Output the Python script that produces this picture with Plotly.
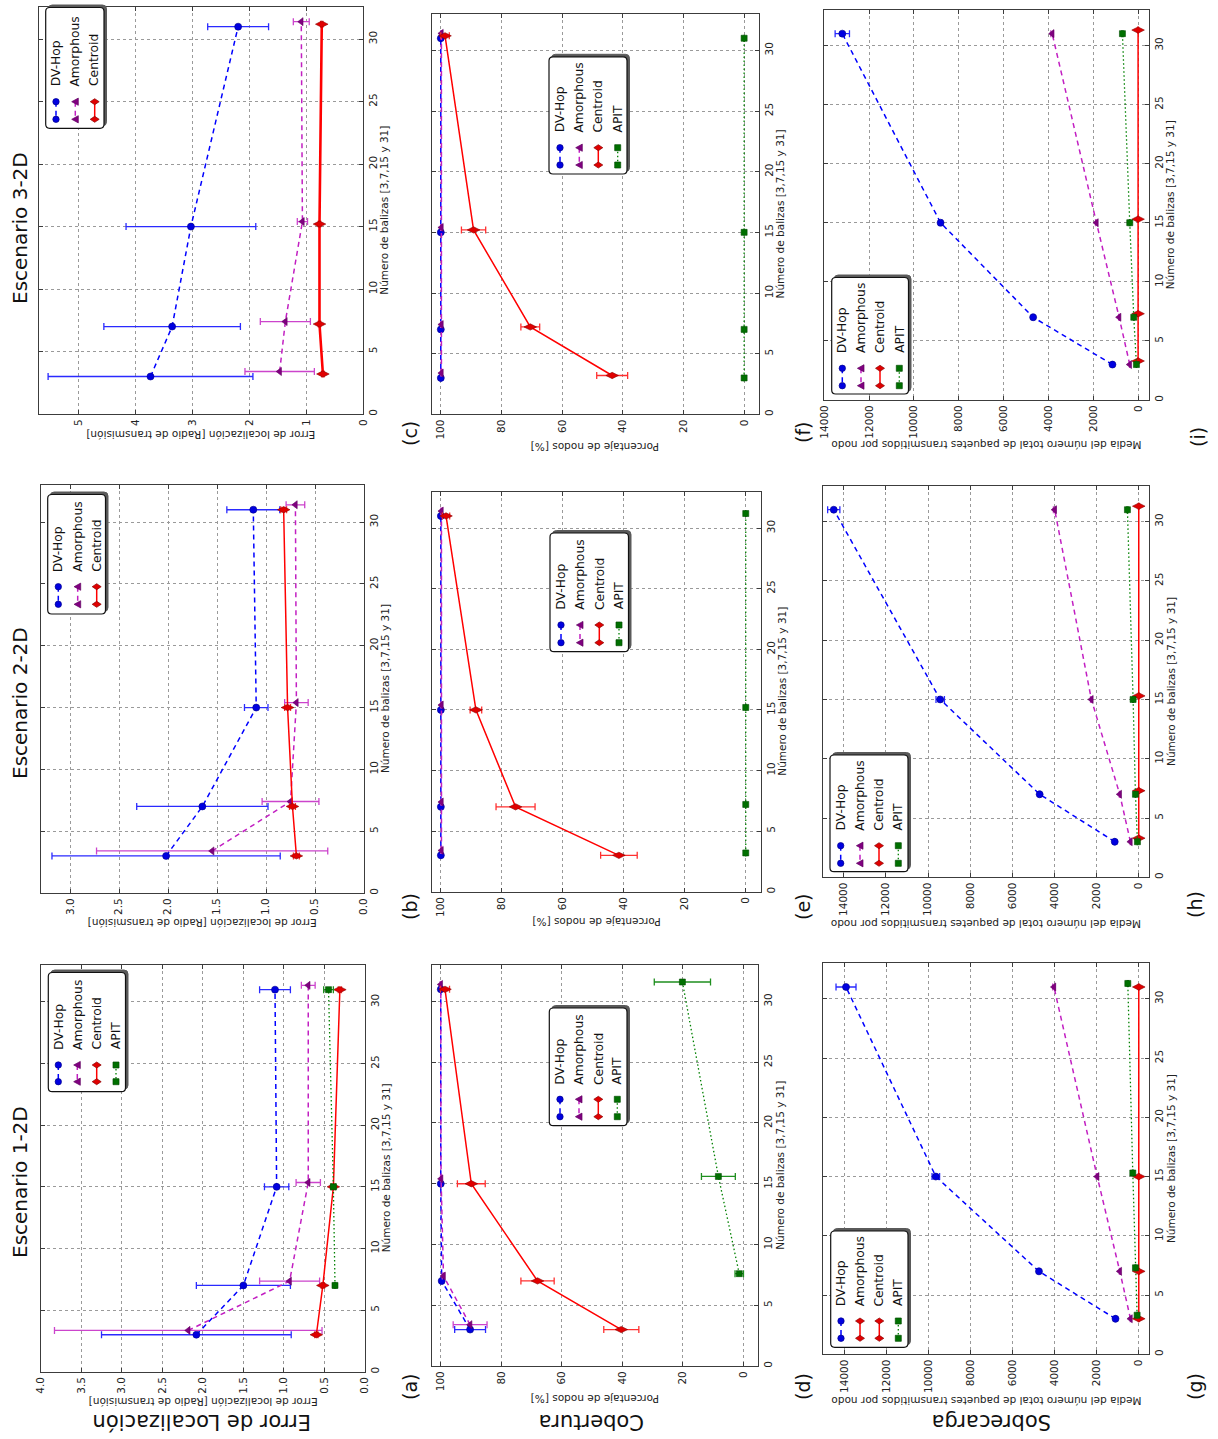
import plotly.graph_objects as go

# ---------------------------------------------------------------------------
# Data: number of beacons and results per scenario (mean and std. deviation)
# ---------------------------------------------------------------------------
BEACONS = [3, 7, 15, 31]
SERIES = ["DV-Hop", "Amorphous", "Centroid", "APIT"]

# Error de localización [radio de transmisión]
err1_dvhop = [2.08, 1.50, 1.09, 1.11]
err1_dvhop_sd = [1.17, 0.58, 0.15, 0.19]
err1_amorph = [2.18, 0.93, 0.70, 0.70]
err1_amorph_sd = [1.65, 0.37, 0.15, 0.085]
err1_centroid = [0.60, 0.52, 0.39, 0.31]
err1_centroid_sd = [0.02, 0.02, 0.02, 0.02]
err1_apit = [None, 0.37, 0.39, 0.45]
err1_apit_sd = [None, 0.01, 0.03, 0.06]

err2_dvhop = [2.02, 1.65, 1.10, 1.13]
err2_dvhop_sd = [1.165, 0.67, 0.12, 0.27]
err2_amorph = [1.55, 0.75, 0.69, 0.70]
err2_amorph_sd = [1.18, 0.29, 0.12, 0.095]
err2_centroid = [0.69, 0.73, 0.78, 0.82]
err2_centroid_sd = [0.03, 0.03, 0.03, 0.03]

err3_dvhop = [3.74, 3.36, 3.03, 2.20]
err3_dvhop_sd = [1.80, 1.20, 1.14, 0.535]
err3_amorph = [1.47, 1.37, 1.07, 1.09]
err3_amorph_sd = [0.61, 0.44, 0.09, 0.14]
err3_centroid = [0.71, 0.77, 0.77, 0.73]
err3_centroid_sd = [0.02, 0.02, 0.02, 0.02]

# Cobertura [porcentaje de nodos]
cov1_dvhop = [90.3, 99.7, 100.0, 100.0]
cov1_dvhop_sd = [5.1, 0.3, 0.2, 0.2]
cov1_amorph = [90.3, 99.1, 99.9, 100.0]
cov1_amorph_sd = [5.6, 0.4, 0.2, 0.2]
cov1_centroid = [40.3, 68.0, 89.9, 98.6]
cov1_centroid_sd = [5.8, 5.5, 4.6, 1.5]
cov1_apit = [None, 1.3, 8.2, 20.1]
cov1_apit_sd = [None, 1.4, 5.6, 9.3]

cov2_dvhop = [100.0, 100.0, 100.0, 100.0]
cov2_dvhop_sd = [0.2, 0.2, 0.2, 0.2]
cov2_amorph = [99.8, 99.8, 99.8, 99.8]
cov2_amorph_sd = [0.2, 0.2, 0.2, 0.2]
cov2_centroid = [41.6, 75.5, 88.5, 98.3]
cov2_centroid_sd = [6.0, 6.4, 1.9, 1.2]
cov2_apit = [0.0, 0.0, 0.0, 0.0]
cov2_apit_sd = [0.0, 0.0, 0.0, 0.0]

cov3_dvhop = [100.0, 100.0, 100.0, 100.0]
cov3_dvhop_sd = [0.2, 0.2, 0.2, 0.2]
cov3_amorph = [99.8, 99.8, 99.8, 99.8]
cov3_amorph_sd = [0.2, 0.2, 0.2, 0.2]
cov3_centroid = [43.5, 70.5, 89.2, 98.6]
cov3_centroid_sd = [5.1, 3.1, 4.0, 1.4]
cov3_apit = [0.0, 0.0, 0.0, 0.0]
cov3_apit_sd = [0.0, 0.0, 0.0, 0.0]

# Sobrecarga [paquetes transmitidos por nodo]
ovh1_dvhop = [1107, 4746, 9650, 13920]
ovh1_dvhop_sd = [30, 40, 180, 475]
ovh1_amorph = [395, 902, 1978, 4034]
ovh1_amorph_sd = [10, 20, 40, 60]
ovh1_centroid = [0, 0, 0, 0]
ovh1_centroid_sd = [15, 15, 15, 15]
ovh1_apit = [79, 158, 285, 522]
ovh1_apit_sd = [10, 15, 20, 30]

ovh2_dvhop = [1140, 4704, 9423, 14475]
ovh2_dvhop_sd = [30, 40, 200, 290]
ovh2_amorph = [396, 903, 2249, 3991]
ovh2_amorph_sd = [10, 20, 40, 60]
ovh2_centroid = [0, 0, 0, 0]
ovh2_centroid_sd = [15, 15, 15, 15]
ovh2_apit = [63, 158, 269, 538]
ovh2_apit_sd = [10, 15, 20, 30]

ovh3_dvhop = [1144, 4682, 8813, 13197]
ovh3_dvhop_sd = [30, 40, 60, 320]
ovh3_amorph = [372, 847, 1858, 3834]
ovh3_amorph_sd = [10, 20, 40, 60]
ovh3_centroid = [0, 0, 0, 0]
ovh3_centroid_sd = [15, 15, 15, 15]
ovh3_apit = [74, 193, 372, 699]
ovh3_apit_sd = [10, 15, 20, 30]

SCENARIOS = ["Escenario 1-2D", "Escenario 2-2D", "Escenario 3-2D"]
ROW_TITLES = ["Error de Localización", "Cobertura", "Sobrecarga"]
AXIS_TITLES = [
    "Error de localización [Radio de transmisión]",
    "Porcentaje de nodos [%]",
    "Media del número total de paquetes transmitidos por nodo",
]
BEACON_TITLE = "Número de balizas [3,7,15 y 31]"

# ---------------------------------------------------------------------------
# Styling
# ---------------------------------------------------------------------------
W, H = 1218, 1439
FONT = "DejaVu Sans"

STYLE = {
    "DV-Hop": dict(line="#0000ff", dash="5px,4px", width=1.5, symbol="circle",
                   size=7, face="#0000e0", edge="#00008b", err="#2a2aff"),
    "Amorphous": dict(line="#c21fc2", dash="5px,4px", width=1.5, symbol="triangle-left",
                      size=7, face="#800080", edge="#600060", err="#cc44cc"),
    "Centroid": dict(line="#ff0000", dash="solid", width=1.5, symbol="diamond-wide",
                     size=9, face="#e00000", edge="#8b0000", err="#ff3030"),
    "APIT": dict(line="#008000", dash="1.5px,2.5px", width=1.3, symbol="square",
                 size=6, face="#007000", edge="#004d00", err="#1f8f1f"),
}


def X(px):
    return px / W


def Y(py):
    return 1 - py / H


# Panel geometry (pixels: left, right, top, bottom), axis ranges and legends
PANELS = [
    dict(tag="(a)", dom=(40.7, 365, 965, 1371.7), xr=[4.0, 0.0], yr=33, dt=0.5, fmt=".1f",
         series=[("DV-Hop", err1_dvhop, err1_dvhop_sd), ("Amorphous", err1_amorph, err1_amorph_sd),
                 ("Centroid", err1_centroid, err1_centroid_sd), ("APIT", err1_apit, err1_apit_sd)],
         shift={"Amorphous": 0.35},
         leg=dict(box=(48.3, 125.5, 972.5, 1091.7), xs=[58.3, 77.3, 96.7, 116], my=(1065, 1081.7), tb=1051.7,
                  keys=[("DV-Hop", "DV-Hop"), ("Amorphous", "Amorphous"), ("Centroid", "Centroid"), ("APIT", "APIT")]),
         lab=(410, 1387), ttl=31),
    dict(tag="(b)", dom=(40.7, 364, 485, 893), xr=[3.3, 0.0], yr=33, dt=0.5, fmt=".1f",
         series=[("DV-Hop", err2_dvhop, err2_dvhop_sd), ("Amorphous", err2_amorph, err2_amorph_sd),
                 ("Centroid", err2_centroid, err2_centroid_sd)],
         shift={"Amorphous": 0.4},
         leg=dict(box=(47.7, 105.5, 494.5, 614), xs=[58.3, 77.7, 96.7], my=(586.7, 604.3), tb=574,
                  keys=[("DV-Hop", "DV-Hop"), ("Amorphous", "Amorphous"), ("Centroid", "Centroid")]),
         lab=(410, 907), ttl=30),
    dict(tag="(c)", dom=(39, 363.3, 6.7, 414), xr=[5.7, 0.0], yr=32.6, dt=1, fmt="d",
         series=[("DV-Hop", err3_dvhop, err3_dvhop_sd), ("Amorphous", err3_amorph, err3_amorph_sd),
                 ("Centroid", err3_centroid, err3_centroid_sd)],
         shift={"Amorphous": 0.4, "Centroid": 0.2}, thick={"Centroid": 2.6},
         leg=dict(box=(45.7, 104, 7.5, 128.3), xs=[56, 75.3, 94.7], my=(101.7, 119.3), tb=88.3,
                  keys=[("DV-Hop", "DV-Hop"), ("Amorphous", "Amorphous"), ("Centroid", "Centroid")]),
         lab=(410, 434), ttl=21),
    dict(tag="(d)", dom=(431.7, 758.3, 965, 1366), xr=[103, -5], yr=33, dt=20, fmt="d",
         series=[("DV-Hop", cov1_dvhop, cov1_dvhop_sd), ("Amorphous", cov1_amorph, cov1_amorph_sd),
                 ("Centroid", cov1_centroid, cov1_centroid_sd), ("APIT", cov1_apit, cov1_apit_sd)],
         shift={"Amorphous": 0.4, "APIT": 0.6},
         leg=dict(box=(549.3, 627, 1008, 1125.7), xs=[560, 579, 598.3, 617.3], my=(1099.3, 1116.7), tb=1086.7,
                  keys=[("DV-Hop", "DV-Hop"), ("Amorphous", "Amorphous"), ("Centroid", "Centroid"), ("APIT", "APIT")]),
         lab=(803, 1387), ttl=33),
    dict(tag="(e)", dom=(431.7, 761, 491.7, 891.7), xr=[103, -5], yr=33, dt=20, fmt="d",
         series=[("DV-Hop", cov2_dvhop, cov2_dvhop_sd), ("Amorphous", cov2_amorph, cov2_amorph_sd),
                 ("Centroid", cov2_centroid, cov2_centroid_sd), ("APIT", cov2_apit, cov2_apit_sd)],
         shift={"Amorphous": 0.4, "APIT": 0.2},
         leg=dict(box=(550, 628.5, 533, 651.7), xs=[561, 580, 599.3, 619], my=(625, 642.7), tb=611.7,
                  keys=[("DV-Hop", "DV-Hop"), ("Amorphous", "Amorphous"), ("Centroid", "Centroid"), ("APIT", "APIT")]),
         lab=(803, 907), ttl=31),
    dict(tag="(f)", dom=(431.7, 759.3, 14, 414.3), xr=[103, -5], yr=33, dt=20, fmt="d",
         series=[("DV-Hop", cov3_dvhop, cov3_dvhop_sd), ("Amorphous", cov3_amorph, cov3_amorph_sd),
                 ("Centroid", cov3_centroid, cov3_centroid_sd), ("APIT", cov3_apit, cov3_apit_sd)],
         shift={"Amorphous": 0.4, "Centroid": 0.2},
         leg=dict(box=(549, 627, 56.8, 174), xs=[560, 579.3, 598.3, 617.7], my=(147.7, 165), tb=134.3,
                  keys=[("DV-Hop", "DV-Hop"), ("Amorphous", "Amorphous"), ("Centroid", "Centroid"), ("APIT", "APIT")]),
         lab=(803, 432), ttl=32),
    dict(tag="(g)", dom=(823.3, 1149.3, 963.3, 1354.3), xr=[15000, -500], yr=33, dt=2000, fmt="d",
         series=[("DV-Hop", ovh1_dvhop, ovh1_dvhop_sd), ("Amorphous", ovh1_amorph, ovh1_amorph_sd),
                 ("Centroid", ovh1_centroid, ovh1_centroid_sd), ("APIT", ovh1_apit, ovh1_apit_sd)],
         shift={"APIT": 0.3},
         leg=dict(box=(830.7, 908, 1231, 1347.3), xs=[841, 860, 879.3, 898.3], my=(1321, 1338.3), tb=1308.3,
                  keys=[("DV-Hop", "DV-Hop"), ("Amorphous", "Centroid"), ("Centroid", "Centroid"), ("APIT", "APIT")]),
         lab=(1195, 1387), ttl=46),
    dict(tag="(h)", dom=(822.7, 1149.3, 486, 877.3), xr=[15000, -500], yr=33, dt=2000, fmt="d",
         series=[("DV-Hop", ovh2_dvhop, ovh2_dvhop_sd), ("Amorphous", ovh2_amorph, ovh2_amorph_sd),
                 ("Centroid", ovh2_centroid, ovh2_centroid_sd), ("APIT", ovh2_apit, ovh2_apit_sd)],
         shift={"Centroid": 0.3},
         leg=dict(box=(830, 908, 755, 871.7), xs=[840.7, 860, 879, 898.3], my=(845.7, 863.3), tb=832.7,
                  keys=[("DV-Hop", "DV-Hop"), ("Amorphous", "Amorphous"), ("Centroid", "Centroid"), ("APIT", "APIT")]),
         lab=(1195, 905), ttl=46),
    dict(tag="(i)", dom=(824.3, 1149.3, 10, 400), xr=[14000, -500], yr=33, dt=2000, fmt="d",
         series=[("DV-Hop", ovh3_dvhop, ovh3_dvhop_sd), ("Amorphous", ovh3_amorph, ovh3_amorph_sd),
                 ("Centroid", ovh3_centroid, ovh3_centroid_sd), ("APIT", ovh3_apit, ovh3_apit_sd)],
         shift={"Centroid": 0.3},
         leg=dict(box=(831.7, 908.5, 277.5, 394), xs=[842.3, 861, 880, 899.3], my=(368.3, 385.7), tb=355,
                  keys=[("DV-Hop", "DV-Hop"), ("Amorphous", "Amorphous"), ("Centroid", "Centroid"), ("APIT", "APIT")]),
         lab=(1198, 437), ttl=45),
]

fig = go.Figure()
layout = dict(
    width=W, height=H, margin=dict(l=0, r=0, t=0, b=0),
    paper_bgcolor="white", plot_bgcolor="white", showlegend=False,
    font=dict(family=FONT, color="#1a1a1a"), template="none",
)
shapes, annotations = [], []


def marker_shape(style, cx, cy):
    s = STYLE[style]
    base = dict(xref="paper", yref="paper", xsizemode="pixel", ysizemode="pixel",
                xanchor=X(cx), yanchor=Y(cy), fillcolor=s["face"],
                line=dict(color=s["edge"], width=0.7), layer="above")
    sym = s["symbol"]
    if sym == "circle":
        return dict(type="circle", x0=-3.2, x1=3.2, y0=-3.2, y1=3.2, **base)
    if sym == "square":
        return dict(type="rect", x0=-3, x1=3, y0=-3, y1=3, **base)
    if sym == "triangle-left":
        return dict(type="path", path="M -3.6 0 L 3 3.6 L 3 -3.6 Z", **base)
    return dict(type="path", path="M -4.5 0 L 0 3 L 4.5 0 L 0 -3 Z", **base)


def rounded_path(x0, y0, x1, y1, r=4):
    return (f"M {X(x0 + r)},{Y(y0)} L {X(x1 - r)},{Y(y0)} Q {X(x1)},{Y(y0)} {X(x1)},{Y(y0 + r)} "
            f"L {X(x1)},{Y(y1 - r)} Q {X(x1)},{Y(y1)} {X(x1 - r)},{Y(y1)} "
            f"L {X(x0 + r)},{Y(y1)} Q {X(x0)},{Y(y1)} {X(x0)},{Y(y1 - r)} "
            f"L {X(x0)},{Y(y0 + r)} Q {X(x0)},{Y(y0)} {X(x0 + r)},{Y(y0)} Z")


for k, p in enumerate(PANELS, start=1):
    sx = "" if k == 1 else str(k)
    left, right, top, bottom = p["dom"]
    axis_common = dict(
        showline=True, linecolor="#3c3c3c", linewidth=1.1, mirror="ticks",
        ticks="inside", ticklen=4, tickwidth=0.8, tickcolor="#3c3c3c",
        showgrid=True, gridcolor="#9a9a9a", griddash="dot", gridwidth=0.8,
        zeroline=False, automargin=False, tickangle=-90,
        tickfont=dict(family=FONT, size=10.5, color="#222"),
    )
    layout["xaxis" + sx] = dict(
        domain=[X(left), X(right)], range=p["xr"], anchor="y" + sx,
        tick0=0, dtick=p["dt"], tickformat=p["fmt"], **axis_common)
    layout["yaxis" + sx] = dict(
        domain=[Y(bottom), Y(top)], range=[0, p["yr"]], anchor="x" + sx, side="right",
        tick0=0, dtick=5, **axis_common)

    for name, vals, sd in p["series"]:
        s = STYLE[name]
        off = p["shift"].get(name, 0.0)
        lw = p.get("thick", {}).get(name, s["width"])
        fig.add_trace(go.Scatter(
            x=vals, y=[b + off for b in BEACONS], xaxis="x" + sx, yaxis="y" + sx,
            mode="lines+markers", name=name,
            line=dict(color=s["line"], width=lw, dash=s["dash"]),
            marker=dict(symbol=s["symbol"], size=s["size"], color=s["face"],
                        line=dict(color=s["edge"], width=0.6)),
            error_x=dict(type="data", array=sd, visible=True, color=s["err"],
                         thickness=1.3, width=3.5),
            connectgaps=False,
        ))

    # Legend drawn with shapes (rotated layout)
    lg = p["leg"]
    bx0, bx1, by0, by1 = lg["box"]
    shapes.append(dict(type="path", xref="paper", yref="paper", layer="above",
                       path=rounded_path(bx0 + 2.5, by0 - 2.5, bx1 + 2.5, by1 - 2.5),
                       fillcolor="#5a5a5a", line=dict(color="#5a5a5a", width=1)))
    shapes.append(dict(type="path", xref="paper", yref="paper", layer="above",
                       path=rounded_path(bx0, by0, bx1, by1),
                       fillcolor="white", line=dict(color="#111", width=1.2)))
    for ex, (label, style) in zip(lg["xs"], lg["keys"]):
        s = STYLE[style]
        y_a, y_b = lg["my"]
        shapes.append(dict(type="line", xref="paper", yref="paper", layer="above",
                           x0=X(ex), x1=X(ex), y0=Y(y_a), y1=Y(y_b),
                           line=dict(color=s["line"], width=s["width"], dash=s["dash"])))
        shapes.append(marker_shape(style, ex, y_a))
        shapes.append(marker_shape(style, ex, y_b))
        annotations.append(dict(text=label, xref="paper", yref="paper", x=X(ex), y=Y(lg["tb"]),
                                xanchor="center", yanchor="bottom", textangle=-90, showarrow=False,
                                font=dict(family=FONT, size=12.3, color="#111")))

    # Axis titles (rotated to follow the page orientation)
    col = (k - 1) // 3
    annotations.append(dict(text=AXIS_TITLES[col], xref="paper", yref="paper",
                            x=X((left + right) / 2), y=Y(bottom + p["ttl"]),
                            xanchor="center", yanchor="middle", textangle=180, showarrow=False,
                            font=dict(family=FONT, size=10.5, color="#222")))
    annotations.append(dict(text=BEACON_TITLE, xref="paper", yref="paper",
                            x=X(right + 21), y=Y((top + bottom) / 2),
                            xanchor="center", yanchor="middle", textangle=-90, showarrow=False,
                            font=dict(family=FONT, size=10.5, color="#222")))
    # Panel tag
    annotations.append(dict(text=p["tag"], xref="paper", yref="paper",
                            x=X(p["lab"][0]), y=Y(p["lab"][1]),
                            xanchor="center", yanchor="middle", textangle=-90, showarrow=False,
                            font=dict(family=FONT, size=19, color="#111")))

# Scenario titles along the left edge
for title, yc in zip(SCENARIOS, [1182, 703, 228]):
    annotations.append(dict(text=title, xref="paper", yref="paper", x=X(20), y=Y(yc),
                            xanchor="center", yanchor="middle", textangle=-90, showarrow=False,
                            font=dict(family=FONT, size=20, color="#111")))

# Metric titles along the bottom edge
for title, xc in zip(ROW_TITLES, [202, 592, 992]):
    annotations.append(dict(text=title, xref="paper", yref="paper", x=X(xc), y=Y(1422),
                            xanchor="center", yanchor="middle", textangle=180, showarrow=False,
                            font=dict(family=FONT, size=21, color="#111")))

layout["shapes"] = shapes
layout["annotations"] = annotations
fig.update_layout(**layout)
fig.write_html("out.html")
